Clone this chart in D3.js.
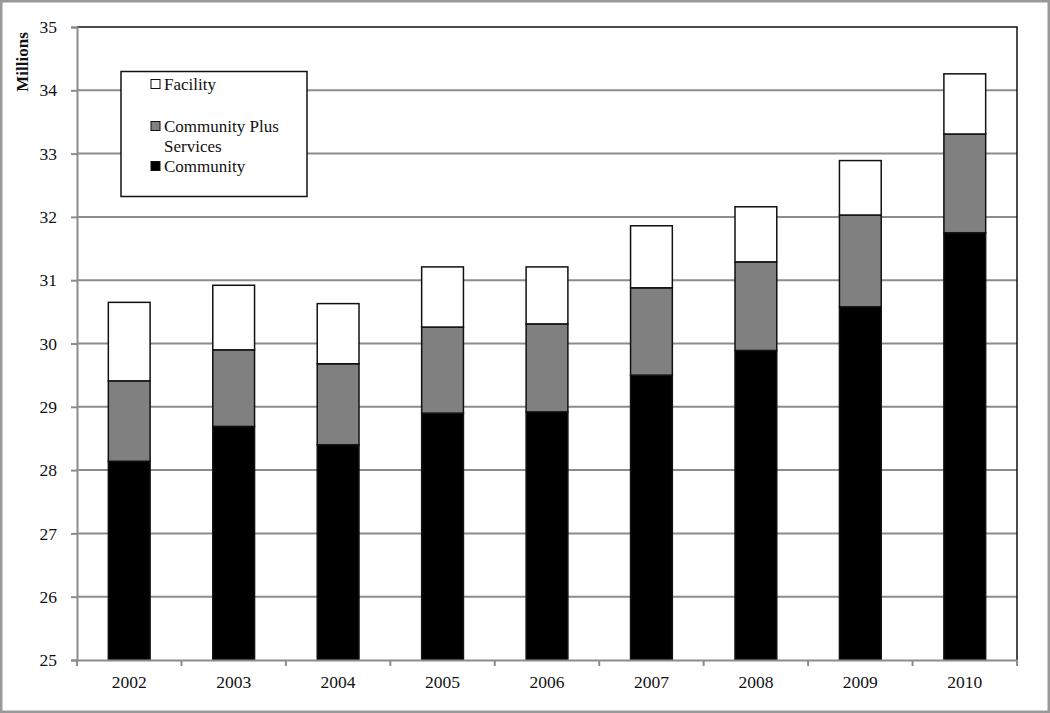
<!DOCTYPE html>
<html lang="en">
<head>
    <meta charset="UTF-8">
    <title>Stacked bars, Millions</title>
    <script src="https://d3js.org/d3.v7.min.js"></script>
    <style>
        body { margin: 0; background: #fff; }
        text { font-family: "Liberation Serif", serif; fill: #111; }
        .tick text { font-size: 17.5px; }
        .legend text { font-size: 17px; }
    </style>
</head>
<body>
    <script>
        const years = ["2002", "2003", "2004", "2005", "2006", "2007", "2008", "2009", "2010"];
        const community = [28.14, 28.69, 28.40, 28.90, 28.92, 29.50, 29.89, 30.58, 31.75];
        const communityPlus = [1.27, 1.21, 1.28, 1.36, 1.39, 1.38, 1.40, 1.45, 1.56];
        const facility = [1.24, 1.02, 0.95, 0.95, 0.90, 0.98, 0.87, 0.86, 0.95];
        const yTicks = [25, 26, 27, 28, 29, 30, 31, 32, 33, 34, 35];

        const width = 1050, height = 713;
        const margin = { top: 27, right: 33, bottom: 53, left: 77 };

        const svg = d3.select("body").append("svg")
            .attr("width", width)
            .attr("height", height);

        // outer frame
        svg.append("rect")
            .attr("x", 1).attr("y", 1)
            .attr("width", width - 2).attr("height", height - 2)
            .attr("fill", "#fff")
            .attr("stroke", "#999")
            .attr("stroke-width", 3);

        const x = d3.scaleBand()
            .domain(years)
            .range([margin.left, width - margin.right])
            .paddingInner(0.6)
            .paddingOuter(0.3);

        const y = d3.scaleLinear()
            .domain([25, 35])
            .range([height - margin.bottom, margin.top]);

        // gridlines
        svg.append("g")
            .selectAll("line")
            .data(yTicks.slice(1, -1))
            .join("line")
            .attr("x1", margin.left)
            .attr("x2", width - margin.right)
            .attr("y1", d => y(d))
            .attr("y2", d => y(d))
            .attr("stroke", "#8c8c8c")
            .attr("stroke-width", 2);

        // top / right border
        svg.append("path")
            .attr("d", `M${margin.left},${y(35)}H${width - margin.right}V${y(25)}`)
            .attr("fill", "none")
            .attr("stroke", "#111")
            .attr("stroke-width", 1.5);

        // stacked bars
        const rows = years.map((yr, i) => ({
            year: yr,
            community: community[i],
            communityPlus: communityPlus[i],
            facility: facility[i]
        }));
        const keys = ["community", "communityPlus", "facility"];
        const fills = { community: "#000", communityPlus: "#808080", facility: "#fff" };
        const stacked = d3.stack().keys(keys)(rows);

        svg.append("g")
            .selectAll("g")
            .data(stacked)
            .join("g")
            .attr("fill", d => fills[d.key])
            .selectAll("rect")
            .data(d => d)
            .join("rect")
            .attr("x", d => x(d.data.year))
            .attr("width", x.bandwidth())
            .attr("y", d => y(Math.min(d[1], 35)))
            .attr("height", d => y(Math.max(d[0], 25)) - y(Math.min(d[1], 35)))
            .attr("stroke", "#111")
            .attr("stroke-width", 1.5);

        // y axis
        const yAxis = svg.append("g")
            .attr("transform", `translate(${margin.left},0)`)
            .call(d3.axisLeft(y).tickValues(yTicks).tickFormat(d3.format("d")).tickSize(6).tickPadding(14));
        yAxis.select(".domain").attr("stroke", "#8c8c8c").attr("stroke-width", 2);
        yAxis.selectAll(".tick line").attr("stroke", "#8c8c8c").attr("stroke-width", 2);

        // x axis, ticks at category boundaries
        const xBoundaries = d3.range(years.length + 1).map(i => margin.left + i * (width - margin.right - margin.left) / years.length);
        const xAxis = svg.append("g")
            .attr("transform", `translate(0,${y(25)})`)
            .call(d3.axisBottom(x).tickSize(0).tickPadding(16));
        xAxis.select(".domain").attr("stroke", "#8c8c8c").attr("stroke-width", 2);
        xAxis.selectAll(".tick text").attr("dy", "0.71em");
        xAxis.append("g")
            .selectAll("line")
            .data(xBoundaries)
            .join("line")
            .attr("x1", d => d).attr("x2", d => d)
            .attr("y1", 0).attr("y2", 6)
            .attr("stroke", "#8c8c8c")
            .attr("stroke-width", 2);

        // axis title
        svg.append("text")
            .attr("transform", "translate(28,62) rotate(-90)")
            .attr("text-anchor", "middle")
            .style("font-size", "17px")
            .style("font-weight", "bold")
            .text("Millions");

        // legend
        const legend = svg.append("g").attr("class", "legend");
        legend.append("rect")
            .attr("x", 121).attr("y", 71.5)
            .attr("width", 186).attr("height", 125)
            .attr("fill", "#fff")
            .attr("stroke", "#111")
            .attr("stroke-width", 1.5);

        const legendItems = [
            { key: "facility", lines: ["Facility"], y: 84 },
            { key: "communityPlus", lines: ["Community Plus", "Services"], y: 126 },
            { key: "community", lines: ["Community"], y: 166 }
        ];
        legendItems.forEach(item => {
            legend.append("rect")
                .attr("x", 151).attr("y", item.y - 4.5)
                .attr("width", 9).attr("height", 9)
                .attr("fill", fills[item.key])
                .attr("stroke", "#111")
                .attr("stroke-width", 1);
            const t = legend.append("text")
                .attr("x", 164).attr("y", item.y);
            item.lines.forEach((ln, j) => {
                t.append("tspan").attr("x", 164).attr("dy", j === 0 ? "0.35em" : "1.15em").text(ln);
            });
        });
    </script>
</body>
</html>
